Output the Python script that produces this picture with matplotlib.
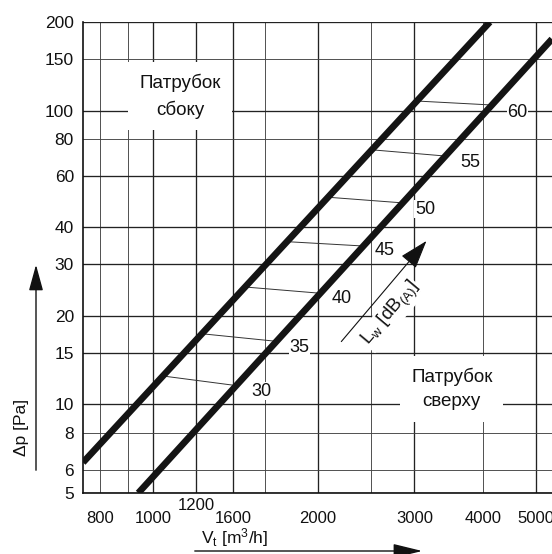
import matplotlib
matplotlib.use("Agg")
import matplotlib.pyplot as plt
from matplotlib.patches import FancyArrowPatch
from matplotlib.transforms import blended_transform_factory

plt.rcParams["font.family"] = ["Liberation Sans", "DejaVu Sans"]
plt.rcParams["mathtext.fontset"] = "custom"
plt.rcParams["mathtext.rm"] = "Liberation Sans"
plt.rcParams["mathtext.it"] = "Liberation Sans:italic"

# characteristic curves: flow V [m3/h] -> pressure drop dp [Pa]
side_v = [745, 4120]
side_dp = [6.35, 200]
top_v = [940, 5350]
top_dp = [5, 175]

# sound power level lines (side curve -> top curve)
lw_levels = ["30", "35", "40", "45", "50", "55", "60"]
lw_v_start = [1043, 1229, 1472, 1756, 2086, 2509, 3032]
lw_dp_start = [12.5, 17.4, 25.1, 35.8, 50.7, 73.5, 107.7]
lw_v_end = [1417, 1681, 2020, 2421, 2857, 3418, 4155]
lw_dp_end = [11.6, 16.4, 23.9, 34.6, 48.5, 70.0, 104.4]
lw_v_label = [1580, 1850, 2210, 2650, 3140, 3790, 4630]
lw_dp_label = [11.1, 15.6, 23.0, 33.3, 46.2, 66.8, 98.8]

# grid / ticks
x_grid_major = [1000, 1200, 1400, 2000, 3000, 5000]
x_grid_minor = [800, 900, 1600, 2500, 4000]
x_label_pos = [800, 1000, 1200, 1400, 2000, 3000, 4000, 5000]
x_label_txt = ["800", "1000", "1200", "1600", "2000", "3000", "4000", "5000"]
y_grid_major = [200, 100, 60, 40, 30, 20, 15, 10, 5]
y_grid_minor = [150, 80, 8, 6]

fig = plt.figure(figsize=(5.52, 5.54), dpi=100)
ax = fig.add_axes([83 / 552, 61 / 554, 1 - 83 / 552, 471 / 554])
ax.set_xscale("log")
ax.set_yscale("log")
ax.set_xlim(745, 5350)
ax.set_ylim(5, 200)

ax.set_xticks(x_grid_major, labels=[""] * len(x_grid_major))
ax.set_xticks(x_grid_minor, labels=[""] * len(x_grid_minor), minor=True)
ax.set_yticks(y_grid_major, labels=[str(v) for v in y_grid_major])
ax.set_yticks(y_grid_minor, labels=[str(v) for v in y_grid_minor], minor=True)
ax.tick_params(which="both", length=0, labelsize=12.5, pad=6.5, colors="#111")
ax.grid(which="major", color="#222", lw=0.95)
ax.grid(which="minor", color="#444", lw=0.65)

for side in ("top", "right"):
    ax.spines[side].set_visible(False)
for side in ("left", "bottom"):
    ax.spines[side].set_color("#111")
    ax.spines[side].set_linewidth(1.2)

# x labels drawn by hand ("1200" sits higher than the rest)
trans = blended_transform_factory(ax.transData, ax.transAxes)
for pos, txt in zip(x_label_pos, x_label_txt):
    yoff = -0.027 if txt == "1200" else -0.054
    ax.text(pos, yoff, txt, transform=trans, ha="center", va="center",
            fontsize=12, color="#111")

# thick curves
ax.plot(side_v, side_dp, color="#141414", lw=4.8, solid_capstyle="butt", zorder=4)
ax.plot(top_v, top_dp, color="#141414", lw=4.8, solid_capstyle="butt", zorder=4)

# dB lines and labels
for i, lvl in enumerate(lw_levels):
    ax.plot([lw_v_start[i], lw_v_end[i]], [lw_dp_start[i], lw_dp_end[i]],
            color="#333", lw=0.7, zorder=3)
    ax.text(lw_v_label[i], lw_dp_label[i], lvl, ha="center", va="center",
            fontsize=13, color="#111", zorder=5,
            bbox=dict(fc="white", ec="none", pad=0.5))

ax.text(1120, 112, "Патрубок\nсбоку", ha="center", va="center", fontsize=13.5,
        linespacing=1.6, color="#111", zorder=5,
        bbox=dict(fc="white", ec="none", pad=8))
ax.text(3510, 11.3, "Патрубок\nсверху", ha="center", va="center", fontsize=13.5,
        linespacing=1.6, color="#111", zorder=5,
        bbox=dict(fc="white", ec="none", pad=8))

# Lw arrow
ax.annotate("", xy=(3180, 36.6), xytext=(2190, 16.1),
            arrowprops=dict(arrowstyle="-|>,head_length=0.9,head_width=0.3",
                            color="#111", lw=0.8, mutation_scale=20), zorder=5)
ax.text(2720, 20.3, r"L$_\mathrm{w}$ [dB$_{\mathrm{(A)}}$]", rotation=50,
        rotation_mode="anchor", ha="center", va="center", fontsize=13.5,
        color="#111", zorder=5, bbox=dict(fc="white", ec="none", pad=1))

# axis titles with arrows
fig.text(22 / 552, 1 - 427 / 554, "Δp [Pa]", rotation=90, ha="center",
         va="center", fontsize=12.5, color="#111")
fig.text(235 / 552, 1 - 538 / 554, r"V$_\mathrm{t}$ [m$^3$/h]", ha="center",
         va="center", fontsize=12.5, color="#111")
fig.add_artist(FancyArrowPatch((36 / 552, 1 - 473 / 554), (36 / 552, 1 - 262 / 554),
                               transform=fig.transFigure, color="#111", lw=1.0,
                               arrowstyle="-|>,head_length=0.8,head_width=0.22",
                               mutation_scale=20))
fig.add_artist(FancyArrowPatch((192 / 552, 1 - 551 / 554), (425 / 552, 1 - 551 / 554),
                               transform=fig.transFigure, color="#111", lw=1.0,
                               arrowstyle="-|>,head_length=0.9,head_width=0.22",
                               mutation_scale=20))

fig.savefig("out.png", dpi=100)
